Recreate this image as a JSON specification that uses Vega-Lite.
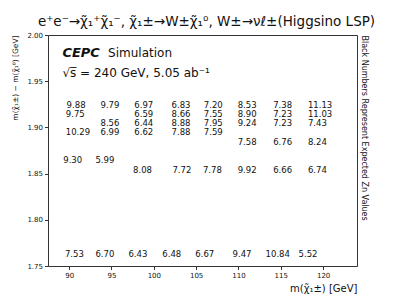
{
  "$schema": "https://vega.github.io/schema/vega-lite/v6.json",
  "width": 309,
  "height": 231,
  "autosize": {"type": "none"},
  "padding": {"left": 48, "top": 35, "right": 42, "bottom": 33},
  "background": "white",
  "config": {
    "font": "DejaVu Sans",
    "view": {"stroke": "#333", "strokeWidth": 1},
    "axis": {"grid": false, "domain": false, "tickColor": "#333", "tickSize": 3.5, "labelColor": "#111", "labelFontSize": 7, "labelPadding": 2, "titleFontWeight": "normal", "titleColor": "#111"}
  },
  "title": {"text": "e⁺e⁻→χ̃₁⁺χ̃₁⁻, χ̃₁±→W±χ̃₁⁰, W±→νℓ±(Higgsino LSP)", "fontSize": 13.5, "fontWeight": "normal", "font": "DejaVu Sans", "color": "#111", "offset": 3, "anchor": "middle", "dx": 4},
  "layer": [
    {
      "data": {"values": [
        {"x": 89.7, "y": 1.924, "z": 9.88}, {"x": 89.6, "y": 1.9145, "z": 9.75}, {"x": 89.6, "y": 1.8955, "z": 10.29}, {"x": 89.3, "y": 1.865, "z": 9.30}, {"x": 89.5, "y": 1.763, "z": 7.53},
        {"x": 93.7, "y": 1.924, "z": 9.79}, {"x": 93.7, "y": 1.905, "z": 8.56}, {"x": 93.7, "y": 1.8955, "z": 6.99}, {"x": 93.1, "y": 1.865, "z": 5.99}, {"x": 93.1, "y": 1.763, "z": 6.70},
        {"x": 97.7, "y": 1.924, "z": 6.97}, {"x": 97.7, "y": 1.9145, "z": 6.59}, {"x": 97.7, "y": 1.905, "z": 6.44}, {"x": 97.7, "y": 1.8955, "z": 6.62}, {"x": 97.55, "y": 1.854, "z": 8.08}, {"x": 97.0, "y": 1.763, "z": 6.43},
        {"x": 102.1, "y": 1.924, "z": 6.83}, {"x": 102.1, "y": 1.9145, "z": 8.66}, {"x": 102.1, "y": 1.905, "z": 8.88}, {"x": 102.1, "y": 1.8955, "z": 7.88}, {"x": 102.2, "y": 1.854, "z": 7.72}, {"x": 101.0, "y": 1.763, "z": 6.48},
        {"x": 105.9, "y": 1.924, "z": 7.20}, {"x": 105.9, "y": 1.9145, "z": 7.55}, {"x": 105.9, "y": 1.905, "z": 7.95}, {"x": 105.9, "y": 1.8955, "z": 7.59}, {"x": 105.8, "y": 1.854, "z": 7.78}, {"x": 104.9, "y": 1.763, "z": 6.67},
        {"x": 109.9, "y": 1.924, "z": 8.53}, {"x": 109.9, "y": 1.9145, "z": 8.90}, {"x": 109.9, "y": 1.905, "z": 9.24}, {"x": 109.9, "y": 1.884, "z": 7.58}, {"x": 109.9, "y": 1.854, "z": 9.92}, {"x": 109.3, "y": 1.763, "z": 9.47},
        {"x": 114.1, "y": 1.924, "z": 7.38}, {"x": 114.1, "y": 1.9145, "z": 7.23}, {"x": 114.1, "y": 1.905, "z": 7.23}, {"x": 114.1, "y": 1.884, "z": 6.76}, {"x": 114.1, "y": 1.854, "z": 6.66}, {"x": 113.2, "y": 1.763, "z": 10.84},
        {"x": 118.2, "y": 1.924, "z": 11.13}, {"x": 118.2, "y": 1.9145, "z": 11.03}, {"x": 118.2, "y": 1.905, "z": 7.43}, {"x": 118.2, "y": 1.884, "z": 8.24}, {"x": 118.2, "y": 1.854, "z": 6.74}, {"x": 117.1, "y": 1.763, "z": 5.52}
      ]},
      "mark": {"type": "text", "align": "left", "baseline": "middle", "fontSize": 8.5, "font": "DejaVu Sans", "color": "#111"},
      "encoding": {
        "x": {"field": "x", "type": "quantitative", "scale": {"domain": [87.5, 124], "nice": false, "zero": false},
              "axis": {"values": [90, 95, 100, 105, 110, 115, 120], "format": "d", "title": "m(χ̃₁±) [GeV]", "titleAnchor": "end", "titleFontSize": 10, "titlePadding": 5}},
        "y": {"field": "y", "type": "quantitative", "scale": {"domain": [1.75, 2.0], "nice": false, "zero": false},
              "axis": {"values": [1.75, 1.8, 1.85, 1.9, 1.95, 2.0], "format": ".2f", "title": "m(χ̃₁±) − m(χ̃₁⁰) [GeV]", "titleAnchor": "end", "titleFontSize": 7.5, "titlePadding": 7}},
        "text": {"field": "z", "type": "quantitative", "format": ".2f"}
      }
    },
    {
      "data": {"values": [{}]},
      "mark": {"type": "text", "align": "left", "baseline": "middle", "fontSize": 13, "fontWeight": "bold", "fontStyle": "italic", "font": "DejaVu Sans", "color": "#111", "text": "CEPC"},
      "encoding": {"x": {"datum": 89.2, "type": "quantitative"}, "y": {"datum": 1.9805, "type": "quantitative", "axis": null}}
    },
    {
      "data": {"values": [{}]},
      "mark": {"type": "text", "align": "left", "baseline": "middle", "fontSize": 12, "font": "DejaVu Sans", "color": "#111", "text": "Simulation"},
      "encoding": {"x": {"datum": 94.6, "type": "quantitative"}, "y": {"datum": 1.9805, "type": "quantitative", "axis": null}}
    },
    {
      "data": {"values": [{}]},
      "mark": {"type": "text", "align": "left", "baseline": "middle", "fontSize": 12, "font": "DejaVu Sans", "color": "#111", "text": "√s̅ = 240 GeV, 5.05 ab⁻¹"},
      "encoding": {"x": {"datum": 89.2, "type": "quantitative"}, "y": {"datum": 1.959, "type": "quantitative", "axis": null}}
    },
    {
      "data": {"values": [{}]},
      "mark": {"type": "rule", "opacity": 0},
      "encoding": {"y": {"datum": 1.75, "type": "quantitative",
        "axis": {"orient": "right", "title": "Black Numbers Represent Expected Zn Values", "labels": false, "ticks": false, "domain": false, "titleAnchor": "end", "titleAlign": "left", "titleFontSize": 8, "titlePadding": 2}}}
    }
  ],
  "resolve": {"axis": {"y": "independent"}}
}
